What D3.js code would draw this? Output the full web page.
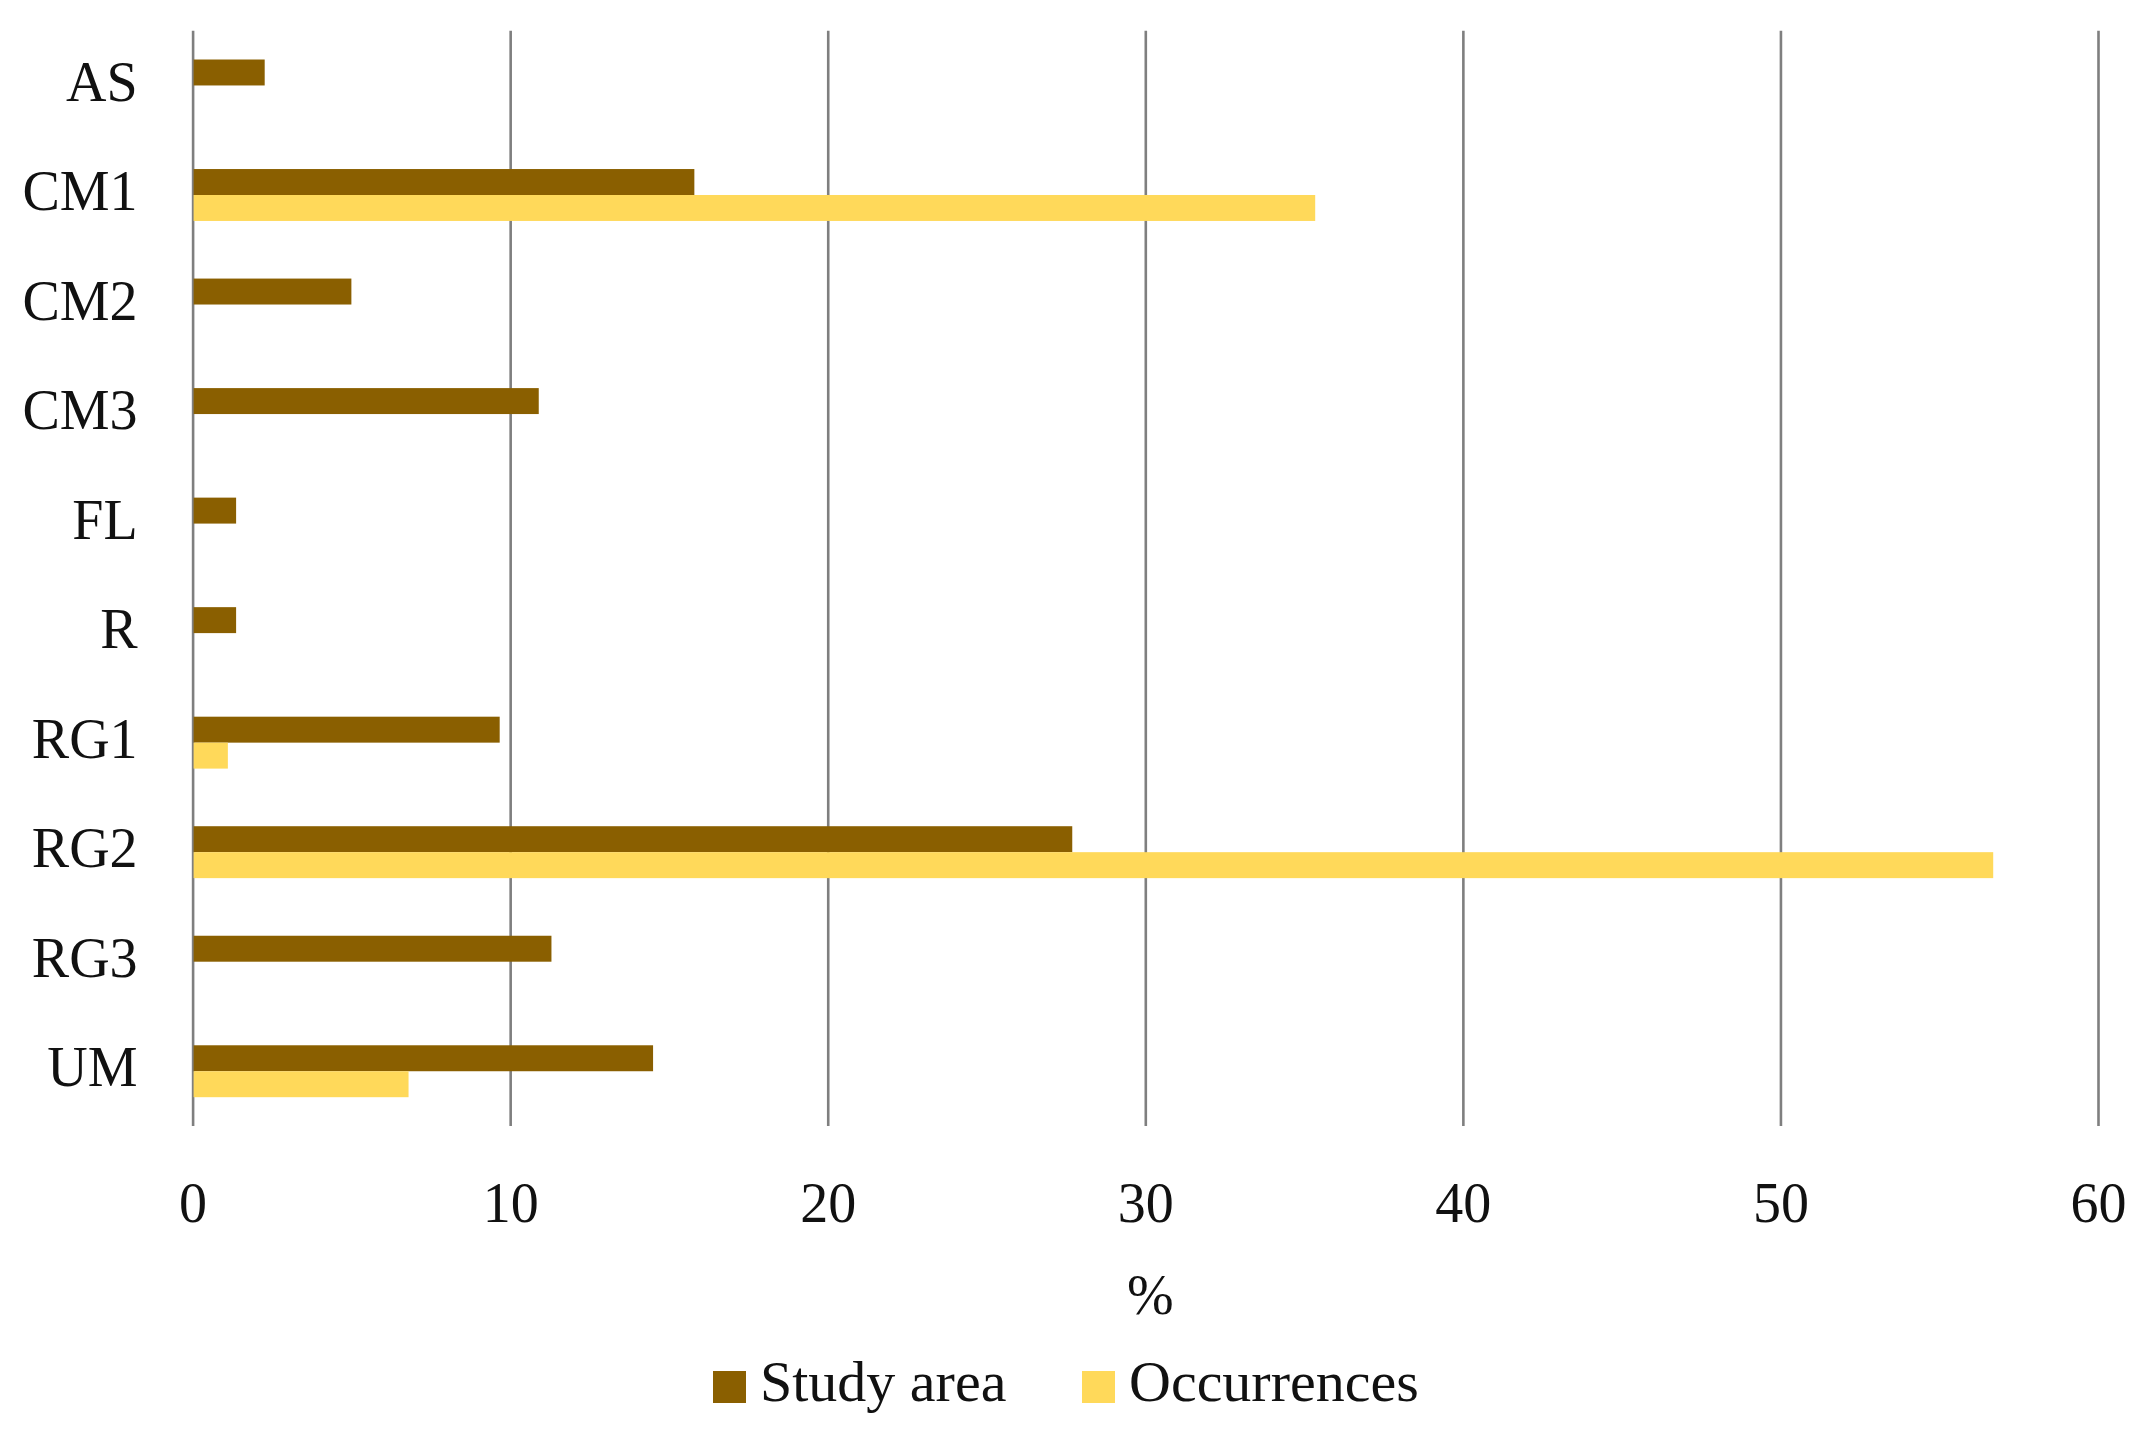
<!DOCTYPE html>
<html>
<head>
<meta charset="utf-8">
<script src="https://cdn.jsdelivr.net/npm/d3@7"></script>
<style>
  html, body { margin: 0; padding: 0; background: #ffffff; }
  svg { display: block; }
  text { font-family: "Liberation Serif", "Times New Roman", serif; fill: #111; }
</style>
</head>
<body>
<svg id="chart" width="2142" height="1433"></svg>
<script>
const categories = ["AS", "CM1", "CM2", "CM3", "FL", "R", "RG1", "RG2", "RG3", "UM"];
const studyArea = [2.27, 15.8, 5.0, 10.9, 1.37, 1.37, 9.67, 27.7, 11.3, 14.5];
const occurrences = [0, 35.35, 0, 0, 0, 0, 1.11, 56.7, 0, 6.8];
const xTicks = [0, 10, 20, 30, 40, 50, 60];
const seriesNames = ["Study area", "Occurrences"];
const seriesColors = ["#8a5f00", "#ffd95a"];
const axisTitle = "%";

(function () {
const svg = d3.select("#chart");
const pLeft = 192.6, pRight = 2098, pTop = 30.7, pBottom = 1126;

const x = d3.scaleLinear().domain([0, 60]).range([pLeft, pRight]);
const y = d3.scaleBand().domain(categories).range([pTop, pBottom])
  .paddingInner(0.526).paddingOuter(0.263);
const sub = d3.scaleBand().domain(seriesNames).range([0, y.bandwidth()]);

// gridlines + tick labels via axis
const gAxis = svg.append("g").attr("transform", `translate(0,${pBottom})`)
  .call(d3.axisBottom(x).tickValues(xTicks).tickSize(-(pBottom - pTop)).tickFormat(d3.format("d")));
gAxis.select(".domain").remove();
gAxis.selectAll(".tick line").attr("stroke", "#7f7f7f").attr("stroke-width", 2.6);
gAxis.selectAll(".tick text")
  .attr("y", 96).attr("dy", null)
  .attr("font-size", 56).attr("font-family", "Liberation Serif").attr("fill", "#111");

const data = categories.map((c, i) => ({ c, vals: [studyArea[i], occurrences[i]] }));

const groups = svg.append("g").selectAll("g").data(data).join("g")
  .attr("transform", d => `translate(0,${y(d.c)})`);
groups.selectAll("rect").data(d => d.vals.map((v, j) => ({ v, s: seriesNames[j], j })))
  .join("rect")
  .attr("x", x(0) + 1)
  .attr("y", d => sub(d.s))
  .attr("width", d => Math.max(0, x(d.v) - x(0) - 1))
  .attr("height", sub.bandwidth())
  .attr("fill", d => seriesColors[d.j]);

// category labels
const gY = svg.append("g").attr("transform", `translate(${pLeft},0)`)
  .call(d3.axisLeft(y).tickSize(0).tickPadding(55));
gY.select(".domain").remove();
gY.selectAll(".tick text")
  .attr("font-size", 56).attr("font-family", "Liberation Serif").attr("fill", "#111")
  .attr("dy", "0.27em");

// axis title
svg.append("text").attr("x", (pLeft + pRight) / 2 + 5).attr("y", 1314)
  .attr("text-anchor", "middle").attr("font-size", 56).text(axisTitle);

// legend
const legendItems = [
  { name: seriesNames[0], color: seriesColors[0], sx: 713, tx: 760 },
  { name: seriesNames[1], color: seriesColors[1], sx: 1082, tx: 1129 }
];
const lg = svg.append("g");
lg.selectAll("rect").data(legendItems).join("rect")
  .attr("x", d => d.sx).attr("y", 1371).attr("width", 33).attr("height", 32)
  .attr("fill", d => d.color);
lg.selectAll("text").data(legendItems).join("text")
  .attr("x", d => d.tx).attr("y", 1401)
  .attr("font-size", 58).text(d => d.name);
})();
</script>
</body>
</html>
